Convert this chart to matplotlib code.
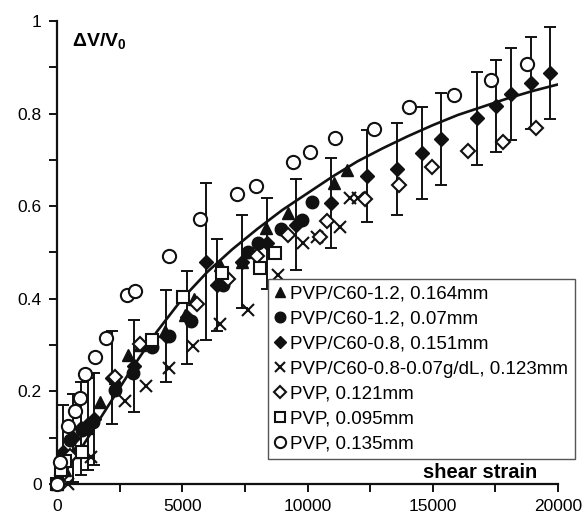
import numpy as np
import matplotlib
matplotlib.use("Agg")
import matplotlib.pyplot as plt
from matplotlib.ticker import MultipleLocator

plt.rcParams['font.family'] = ['Liberation Sans', 'DejaVu Sans']
plt.rcParams['mathtext.fontset'] = 'custom'
plt.rcParams['mathtext.rm'] = 'Liberation Sans'
plt.rcParams['mathtext.bf'] = 'Liberation Sans:bold'

# ---- data ----
# PVP/C60-1.2, 0.164mm (filled triangles)
tri_x = [0, 300, 700, 1200, 1720, 2300, 2830, 3300, 4300, 5110, 5470, 6510, 7400, 8340, 9220, 11060, 11580]
tri_y = [0.0, 0.03, 0.07, 0.12, 0.177, 0.23, 0.278, 0.30, 0.33, 0.365, 0.40, 0.473, 0.48, 0.553, 0.585, 0.650, 0.678]

# PVP/C60-1.2, 0.07mm (filled circles)
circ_x = [0, 520, 1000, 1430, 2310, 3040, 3790, 4470, 5350, 6630, 7620, 8020, 8940, 9780, 10180]
circ_y = [0.0, 0.095, 0.117, 0.134, 0.203, 0.24, 0.296, 0.32, 0.352, 0.43, 0.501, 0.52, 0.551, 0.570, 0.609]

# PVP/C60-0.8, 0.151mm (filled diamonds, with error bars)
dia_x = [250, 640, 960, 1240, 1480, 2200, 3070, 4350, 5200, 5950, 6400, 7400, 8380, 9540,
         10940, 12380, 13580, 14570, 15330, 16770, 17530, 18120, 18920, 19680]
dia_y = [0.07, 0.10, 0.12, 0.13, 0.14, 0.23, 0.255, 0.32, 0.36, 0.48, 0.43, 0.48, 0.52, 0.56,
         0.607, 0.665, 0.680, 0.715, 0.745, 0.790, 0.816, 0.842, 0.866, 0.888]
dia_err = [0.10, 0.095, 0.10, 0.10, 0.10, 0.10, 0.10, 0.10, 0.10, 0.17, 0.10, 0.10, 0.098, 0.098,
           0.098, 0.10, 0.10, 0.10, 0.10, 0.10, 0.10, 0.10, 0.10, 0.10]

# PVP/C60-0.8-0.07g/dL, 0.123mm (crosses)
x_x = [440, 1350, 2720, 3550, 4470, 5430, 6510, 7630, 8820, 9820, 10380, 11300, 11700, 12000]
x_y = [0.0, 0.058, 0.179, 0.212, 0.25, 0.298, 0.346, 0.376, 0.451, 0.52, 0.534, 0.556, 0.618, 0.618]

# PVP, 0.121mm (open diamonds)
odia_x = [200, 500, 2310, 3310, 5590, 6830, 7980, 9220, 10500, 10780, 12300, 13650, 14970, 16410, 17810, 19120]
odia_y = [0.02, 0.06, 0.231, 0.302, 0.389, 0.443, 0.492, 0.538, 0.534, 0.568, 0.615, 0.646, 0.684, 0.719, 0.739, 0.769]

# PVP, 0.095mm (open squares)
sq_x = [0, 150, 300, 1000, 3790, 5030, 6590, 8100, 8700]
sq_y = [0.0, 0.03, 0.05, 0.07, 0.311, 0.404, 0.456, 0.466, 0.50]

# PVP, 0.135mm (open circles)
oc_x = [0, 100, 440, 720, 920, 1120, 1520, 1960, 2790, 3110, 4470, 5710, 7190, 7940, 9420,
        10100, 11100, 12650, 14050, 15850, 17330, 18760]
oc_y = [0.0, 0.047, 0.125, 0.158, 0.186, 0.238, 0.274, 0.315, 0.408, 0.417, 0.492, 0.572, 0.626,
        0.644, 0.695, 0.716, 0.748, 0.767, 0.814, 0.840, 0.873, 0.907]

# fitted curve
fit_x = [0, 1000, 2000, 3000, 4000, 5000, 6000, 7000, 8000, 9000, 10000,
         11000, 12000, 13000, 14000, 15000, 16000, 17000, 18000, 19000, 20000]
fit_y = [0.0, 0.08, 0.165, 0.25, 0.33, 0.40, 0.458, 0.507, 0.551, 0.592, 0.628,
         0.664, 0.697, 0.725, 0.751, 0.775, 0.797, 0.815, 0.833, 0.849, 0.863]

x_ticks = [0, 5000, 10000, 15000, 20000]
x_ticklabels = ['0', '5000', '10000', '15000', '20000']
y_ticks = [0, 0.2, 0.4, 0.6, 0.8, 1.0]
y_ticklabels = ['0', '0.2', '0.4', '0.6', '0.8', '1']

fig = plt.figure(figsize=(5.84, 5.17), dpi=100)
ax = fig.add_axes([57/584, 33/517, 501/584, 463/517])

k = '#111111'
ax.plot(fit_x, fit_y, '-', color=k, lw=1.9, zorder=2)
ax.errorbar(dia_x, dia_y, yerr=dia_err, fmt='none', ecolor=k, elinewidth=1.4,
            capsize=4.5, capthick=1.4, zorder=3)

ax.plot(tri_x, tri_y, '^', color=k, ms=9, ls='none', label='PVP/C60-1.2, 0.164mm', zorder=4, clip_on=False)
ax.plot(circ_x, circ_y, 'o', color=k, ms=9, ls='none', label='PVP/C60-1.2, 0.07mm', zorder=4, clip_on=False)
ax.plot(dia_x, dia_y, 'D', color=k, ms=7, ls='none', label='PVP/C60-0.8, 0.151mm', zorder=4, clip_on=False)
ax.plot(x_x, x_y, 'x', color=k, ms=9, mew=1.5, ls='none', label='PVP/C60-0.8-0.07g/dL, 0.123mm', zorder=4, clip_on=False)
ax.plot(odia_x, odia_y, 'D', mfc='white', mec=k, mew=1.5, ms=7, ls='none', label='PVP, 0.121mm', zorder=4, clip_on=False)
ax.plot(sq_x, sq_y, 's', mfc='white', mec=k, mew=1.5, ms=8.5, ls='none', label='PVP, 0.095mm', zorder=4, clip_on=False)
ax.plot(oc_x, oc_y, 'o', mfc='white', mec=k, mew=1.5, ms=9.5, ls='none', label='PVP, 0.135mm', zorder=4, clip_on=False)

ax.set_xlim(0, 20000)
ax.set_ylim(0, 1)
for s in ['top', 'right']:
    ax.spines[s].set_visible(False)
for s in ['left', 'bottom']:
    ax.spines[s].set_linewidth(1.6)
    ax.spines[s].set_color(k)

ax.set_xticks(x_ticks)
ax.set_xticklabels(x_ticklabels)
ax.set_yticks(y_ticks)
ax.set_yticklabels(y_ticklabels)
ax.xaxis.set_minor_locator(MultipleLocator(2500))
ax.yaxis.set_minor_locator(MultipleLocator(0.1))
ax.tick_params(which='both', direction='out', width=1.4, color=k, labelsize=12.5)
ax.tick_params(which='major', length=6, pad=5)
ax.tick_params(which='minor', length=6)

ax.text(0.03, 0.978, r'$\mathbf{\Delta V/V_0}$', transform=ax.transAxes,
        fontsize=14, ha='left', va='top')
ax.text(0.958, 0.004, 'shear strain', transform=ax.transAxes, fontsize=14.5,
        fontweight='bold', ha='right', va='bottom')

leg = ax.legend(loc='upper left', bbox_to_anchor=(268/584, 1 - 279/517),
                bbox_transform=fig.transFigure, fontsize=13.5, frameon=True,
                fancybox=False, edgecolor='#555555', framealpha=1,
                handlelength=0.6, handletextpad=0.25, labelspacing=0.42,
                borderpad=0.35, borderaxespad=0, numpoints=1, markerscale=0.85)
leg.get_frame().set_linewidth(1.0)
leg.set_zorder(10)

fig.savefig('out.png', dpi=100)
